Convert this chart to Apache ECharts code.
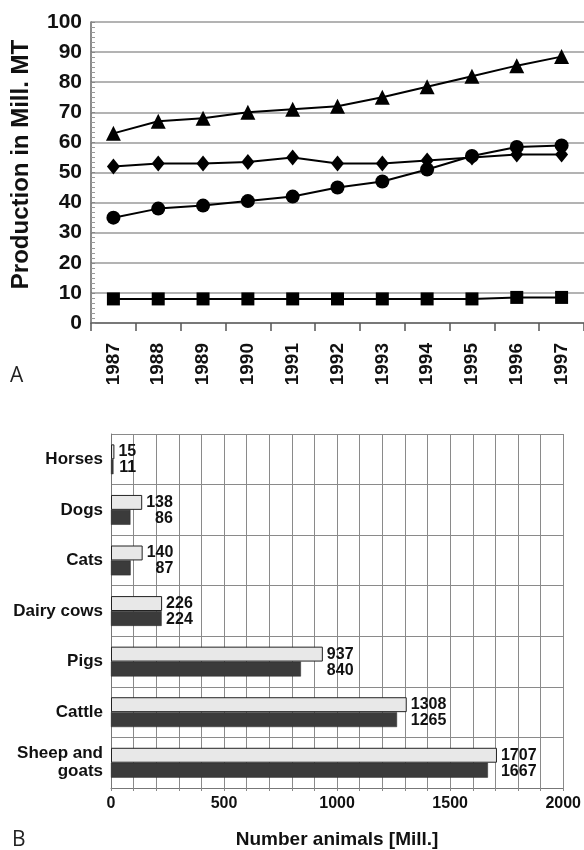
<!DOCTYPE html>
<html>
<head>
<meta charset="utf-8">
<script src="https://cdn.jsdelivr.net/npm/echarts@6/dist/echarts.min.js"></script>
<style>
  html, body { margin: 0; padding: 0; background: #fff; }
  #chart { width: 584px; height: 850px; }
</style>
</head>
<body>
<div id="chart"></div>
<script>
// ---- Panel A data ----
const years = ['1987', '1988', '1989', '1990', '1991', '1992', '1993', '1994', '1995', '1996', '1997'];
const triangleValues = [63, 67, 68, 70, 71, 72, 75, 78.5, 82, 85.5, 88.5];
const diamondValues = [52, 53, 53, 53.5, 55, 53, 53, 54, 55, 56, 56];
const circleValues = [35, 38, 39, 40.5, 42, 45, 47, 51, 55.5, 58.5, 59];
const squareValues = [8, 8, 8, 8, 8, 8, 8, 8, 8, 8.5, 8.5];

// ---- Panel B data ----
const animals = ['Horses', 'Dogs', 'Cats', 'Dairy cows', 'Pigs', 'Cattle', 'Sheep and goats'];
const countsLight = [15, 138, 140, 226, 937, 1308, 1707];
const countsDark = [11, 86, 87, 224, 840, 1265, 1667];

const FONT = '"Liberation Sans", Arial, sans-serif';

function lineSeries(values, symbol, size) {
  return {
    type: 'line',
    xAxisIndex: 0,
    yAxisIndex: 0,
    data: values,
    symbol: symbol,
    symbolSize: size,
    showSymbol: true,
    lineStyle: { color: '#000', width: 2 },
    itemStyle: { color: '#000', borderWidth: 0 },
    emphasis: { disabled: true },
    animation: false
  };
}

const chart = echarts.init(document.getElementById('chart'), null, { renderer: 'canvas' });

chart.setOption({
  animation: false,
  backgroundColor: '#fff',
  textStyle: { fontFamily: FONT },
  grid: [
    { left: 91, right: -8, top: 22, bottom: 527, containLabel: false },
    { left: 111, right: 19, top: 434, bottom: 59, containLabel: false }
  ],
  xAxis: [
    {
      gridIndex: 0,
      type: 'category',
      data: years,
      boundaryGap: true,
      axisLine: { show: true, lineStyle: { color: '#666', width: 1.5 } },
      axisTick: { show: true, length: 8, lineStyle: { color: '#555', width: 1.5 } },
      axisLabel: {
        rotate: 90, margin: 20, color: '#111',
        fontFamily: FONT, fontWeight: 'bold', fontSize: 19
      },
      splitLine: { show: false }
    },
    {
      gridIndex: 1,
      type: 'value',
      min: 0, max: 2000, interval: 100,
      axisLine: { show: true, lineStyle: { color: '#777', width: 1 } },
      axisTick: { show: true, length: 3, lineStyle: { color: '#888' } },
      axisLabel: {
        margin: 8, color: '#111', fontFamily: FONT, fontWeight: 'bold', fontSize: 16,
        formatter: v => (v % 500 === 0 ? String(v) : '')
      },
      splitLine: { show: true, lineStyle: { color: '#8a8a8a', width: 1 } },
      name: 'Number animals [Mill.]',
      nameLocation: 'middle',
      nameGap: 42,
      nameTextStyle: { color: '#111', fontFamily: FONT, fontWeight: 'bold', fontSize: 19 }
    }
  ],
  yAxis: [
    {
      gridIndex: 0,
      type: 'value',
      min: 0, max: 100, interval: 10,
      axisLine: { show: true, lineStyle: { color: '#666', width: 1.5 } },
      axisTick: { show: true, inside: true, length: 4, lineStyle: { color: '#888' } },
      minorTick: { show: true, splitNumber: 6, length: 4, lineStyle: { color: '#999' } },
      axisLabel: {
        margin: 9, color: '#111', fontFamily: FONT, fontWeight: 'bold', fontSize: 21
      },
      splitLine: { show: true, lineStyle: { color: '#9a9a9a', width: 1.5 } },
      name: 'Production in Mill. MT',
      nameLocation: 'middle',
      nameGap: 58,
      nameRotate: 90,
      nameTextStyle: {
        color: '#111', fontFamily: FONT, fontWeight: 'bold', fontSize: 24,
        padding: [0, 0, 0, 16]
      }
    },
    {
      gridIndex: 1,
      type: 'category',
      data: animals,
      inverse: true,
      boundaryGap: true,
      axisLine: { show: true, lineStyle: { color: '#777', width: 1 } },
      axisTick: { show: false },
      axisLabel: {
        margin: 8, color: '#111', fontFamily: FONT, fontWeight: 'bold', fontSize: 17,
        lineHeight: 18,
        formatter: v => v.replace(' and ', ' and\n')
      },
      splitLine: { show: true, lineStyle: { color: '#8a8a8a', width: 1 } }
    }
  ],
  series: [
    lineSeries(squareValues, 'rect', 13),
    lineSeries(circleValues, 'circle', 14),
    lineSeries(diamondValues, 'diamond', [13, 16]),
    lineSeries(triangleValues, 'triangle', 15),
    {
      type: 'bar',
      xAxisIndex: 1,
      yAxisIndex: 1,
      data: countsLight,
      barGap: '0%',
      barCategoryGap: '41%',
      itemStyle: { color: '#e8e8e8', borderColor: '#222', borderWidth: 1 },
      label: {
        show: true,
        position: 'right',
        distance: 4,
        offset: [0, 8],
        formatter: p => '{n|' + countsLight[p.dataIndex] + '}\n{n|' + countsDark[p.dataIndex] + '}',
        rich: {
          n: {
            align: 'right', fontFamily: FONT, fontWeight: 'bold', fontSize: 16,
            lineHeight: 16, color: '#111'
          }
        }
      },
      emphasis: { disabled: true }
    },
    {
      type: 'bar',
      xAxisIndex: 1,
      yAxisIndex: 1,
      data: countsDark,
      barGap: '0%',
      barCategoryGap: '41%',
      itemStyle: { color: '#3b3b3b', borderColor: '#2a2a2a', borderWidth: 0.5 },
      emphasis: { disabled: true }
    }
  ],
  graphic: [
    {
      type: 'text', left: 10, top: 366,
      style: { text: 'A', fontFamily: '"Open Sans", sans-serif', fontSize: 21, fill: '#222' }
    },
    {
      type: 'text', left: 12, top: 830,
      style: { text: 'B', fontFamily: '"Open Sans", sans-serif', fontSize: 21, fill: '#222' }
    }
  ]
});
</script>
</body>
</html>
